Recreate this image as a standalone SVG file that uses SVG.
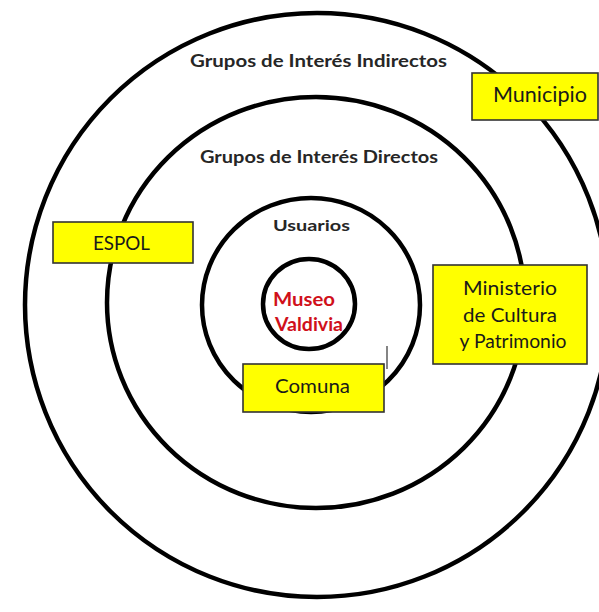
<svg xmlns="http://www.w3.org/2000/svg" width="599" height="612" viewBox="0 0 599 612">
<style>
.ring{fill:none;stroke:#000;stroke-width:4.5}
.box{fill:#ffff00;stroke:#333;stroke-width:1.6}
.lbl{font-family:Lato,"Open Sans","Liberation Sans",sans-serif;fill:#1a1a1a;text-anchor:middle}
.b{font-weight:bold;fill:#262626}
.red{font-weight:bold;fill:#d0101a}
</style>
<rect width="599" height="612" fill="#fff"/>
<g id="rings">
<ellipse id="ring-indirectos" class="ring" cx="317" cy="305" rx="292" ry="292"/>
<ellipse id="ring-directos" class="ring" cx="316" cy="302.5" rx="209" ry="205.5"/>
<ellipse id="ring-usuarios" class="ring" cx="311" cy="305" rx="109" ry="107"/>
<ellipse id="ring-museo" class="ring" cx="309" cy="304" rx="46" ry="45"/>
</g>
<g id="ring-labels">
<text class="lbl b" x="318.5" y="66.5" font-size="16.5" textLength="257" lengthAdjust="spacingAndGlyphs">Grupos de Interés Indirectos</text>
<text class="lbl b" x="319" y="163" font-size="16.5" textLength="238" lengthAdjust="spacingAndGlyphs">Grupos de Interés Directos</text>
<text class="lbl b" x="311.5" y="231" font-size="16" textLength="77" lengthAdjust="spacingAndGlyphs">Usuarios</text>
</g>
<g id="museo">
<text class="lbl red" x="304" y="305.5" font-size="18.5" textLength="62" lengthAdjust="spacingAndGlyphs">Museo</text>
<text class="lbl red" x="309" y="330.5" font-size="18.5" textLength="68" lengthAdjust="spacingAndGlyphs">Valdivia</text>
</g>
<g id="municipio">
<rect class="box" x="472" y="73" width="126" height="47"/>
<text class="lbl" x="540" y="101.5" font-size="20.5" textLength="94" lengthAdjust="spacingAndGlyphs">Municipio</text>
</g>
<g id="espol">
<rect class="box" x="53" y="222" width="140" height="41"/>
<text class="lbl" x="121.5" y="250" font-size="18.5" textLength="57" lengthAdjust="spacingAndGlyphs">ESPOL</text>
</g>
<g id="ministerio">
<rect class="box" x="433" y="265" width="154" height="99"/>
<text class="lbl" x="510" y="295" font-size="18.5" textLength="94" lengthAdjust="spacingAndGlyphs">Ministerio</text>
<text class="lbl" x="510" y="322" font-size="18.5" textLength="94" lengthAdjust="spacingAndGlyphs">de Cultura</text>
<text class="lbl" x="513" y="348" font-size="18.5" textLength="107" lengthAdjust="spacingAndGlyphs">y Patrimonio</text>
</g>
<g id="comuna">
<rect class="box" x="243" y="364" width="141" height="48"/>
<text class="lbl" x="312.5" y="393" font-size="19.5" textLength="75" lengthAdjust="spacingAndGlyphs">Comuna</text>
</g>
<g id="connectors">
<line x1="387" y1="346" x2="387" y2="369" stroke="#333" stroke-width="1.2"/>
</g>
</svg>
